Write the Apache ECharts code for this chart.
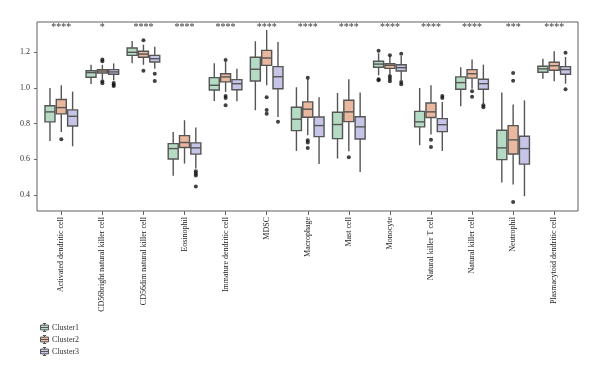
<!DOCTYPE html>
<html><head><meta charset="utf-8">
<script src="https://cdn.jsdelivr.net/npm/echarts@6/dist/echarts.min.js"></script>
<style>html,body{margin:0;padding:0;background:#fff}#c{width:600px;height:378px}</style>
</head><body><div id="c"></div>
<script>
const categories = ['Activated dendritic cell','CD56bright natural killer cell','CD56dim natural killer cell','Eosinophil','Immature dendritic cell','MDSC','Macrophage','Mast cell','Monocyte','Natural killer T cell','Natural killer cell','Neutrophil','Plasmacytoid dendritic cell'];
const significance = ['****','*','****','****','****','****','****','****','****','****','****','***','****'];
const yTicks = [0.4, 0.6, 0.8, 1.0, 1.2];
const clusterNames = ['Cluster1','Cluster2','Cluster3'];

// [lower whisker, Q1, median, Q3, upper whisker]
const cluster1Boxes = [
  [0.703,0.81,0.866,0.90,1.0],
  [1.022,1.06,1.086,1.097,1.13],
  [1.138,1.183,1.2,1.224,1.263],
  [0.507,0.602,0.66,0.688,0.753],
  [0.927,0.989,1.015,1.058,1.138],
  [0.875,1.039,1.105,1.172,1.262],
  [0.647,0.761,0.825,0.892,1.004],
  [0.604,0.716,0.795,0.864,0.972],
  [1.071,1.116,1.134,1.15,1.195],
  [0.679,0.782,0.81,0.869,1.0],
  [0.898,0.993,1.03,1.062,1.116],
  [0.47,0.598,0.664,0.763,0.974],
  [1.052,1.088,1.107,1.122,1.164]
];
const cluster2Boxes = [
  [0.753,0.855,0.89,0.935,1.015],
  [1.05,1.084,1.095,1.103,1.13],
  [1.13,1.172,1.19,1.206,1.243],
  [0.576,0.666,0.694,0.733,0.819],
  [0.978,1.034,1.062,1.08,1.146],
  [1.015,1.127,1.168,1.211,1.325],
  [0.735,0.836,0.881,0.922,1.05],
  [0.645,0.811,0.866,0.931,1.049],
  [1.07,1.11,1.127,1.136,1.175],
  [0.739,0.834,0.866,0.916,1.015],
  [0.996,1.055,1.08,1.103,1.159],
  [0.459,0.63,0.709,0.789,0.908],
  [1.038,1.099,1.125,1.144,1.206]
];
const cluster3Boxes = [
  [0.673,0.787,0.841,0.877,0.98],
  [1.043,1.077,1.09,1.103,1.138],
  [1.108,1.146,1.164,1.183,1.231],
  [0.548,0.629,0.664,0.692,0.778],
  [0.925,0.99,1.024,1.047,1.108],
  [0.837,0.996,1.063,1.12,1.258],
  [0.573,0.727,0.789,0.837,0.948],
  [0.529,0.714,0.782,0.839,0.974],
  [1.045,1.095,1.114,1.13,1.18],
  [0.647,0.755,0.794,0.828,0.922],
  [0.912,0.993,1.024,1.049,1.131],
  [0.393,0.573,0.66,0.729,0.931],
  [1.024,1.077,1.103,1.12,1.174]
];
// [category index, value]
const cluster1Outliers = [[8,1.209],[8,1.049],[8,1.043]];
const cluster2Outliers = [[0,0.713],[1,1.16],[1,1.15],[1,1.038],[1,1.027],[2,1.267],[2,1.097],[4,1.157],[4,0.955],[4,0.944],[4,0.903],[5,0.948],[5,0.877],[5,0.855],[6,1.058],[6,0.707],[6,0.694],[6,0.664],[7,0.612],[8,1.183],[8,1.066],[8,1.052],[8,1.038],[9,0.709],[9,0.669],[10,0.981],[10,0.951],[11,1.084],[11,1.041],[11,0.36]];
const cluster3Outliers = [[1,1.028],[1,1.018],[1,1.011],[2,1.08],[2,1.039],[3,0.533],[3,0.52],[3,0.509],[3,0.447],[5,0.81],[8,1.192],[8,1.034],[8,1.021],[9,0.955],[9,0.944],[10,0.903],[10,0.892],[12,1.198],[12,0.993]];

const FONT = 'Liberation Serif';
const colors = ['#b6dbc4','#eab89e','#c6c5e7'];
const edge = '#555555';
const yMin = 0.31, yMax = 1.37;
const plotLeft = 40.75, plotWidth = 534;
const band = plotWidth / categories.length;
const avail = band * 0.8 - 2;
const gap = avail / 3 * 0.3;
const bw = (avail - 2 * gap) / 3;
const step = gap + bw;
const offsets = [-step, 0, step];
const boxW = 10;

function boxSeries(name, boxes, idx) {
  return {
    type: 'custom', name: name, xAxisIndex: 1, yAxisIndex: 1,
    itemStyle: { color: colors[idx], borderColor: edge },
    encode: { x: 0, y: [1, 2, 3, 4, 5] },
    data: boxes.map((b, i) => [i].concat(b)),
    renderItem: function (params, api) {
      const c = api.value(0);
      const x = api.coord([c, api.value(3)])[0] + offsets[idx];
      const y = k => api.coord([c, api.value(k)])[1];
      const yl = y(1), yq1 = y(2), ym = y(3), yq3 = y(4), yh = y(5);
      const st = { stroke: edge, lineWidth: 1.4 };
      return { type: 'group', children: [
        { type: 'line', shape: { x1: x, y1: yh, x2: x, y2: yq3 }, style: st },
        { type: 'line', shape: { x1: x, y1: yq1, x2: x, y2: yl }, style: st },
        { type: 'rect', shape: { x: x - boxW / 2, y: yq3, width: boxW, height: yq1 - yq3 }, style: { fill: colors[idx], stroke: edge, lineWidth: 1.4 } },
        { type: 'line', shape: { x1: x - boxW / 2, y1: ym, x2: x + boxW / 2, y2: ym }, style: st }
      ]};
    }
  };
}
function outlierSeries(name, pts, idx) {
  return {
    type: 'scatter', name: name + ' outliers', xAxisIndex: 1, yAxisIndex: 1,
    symbol: 'circle', symbolSize: 4, symbolOffset: [offsets[idx], 0],
    itemStyle: { color: '#111' }, silent: true,
    data: pts
  };
}

const chart = echarts.init(document.getElementById('c'), null, { renderer: 'canvas' });
chart.setOption({
  animation: false,
  backgroundColor: '#fff',
  textStyle: { fontFamily: FONT },
  grid: [
    { left: 37, top: 22, width: 541, height: 189, show: true, borderColor: '#606060', borderWidth: 1, backgroundColor: 'transparent' },
    { left: plotLeft, top: 22, width: plotWidth, height: 189 }
  ],
  xAxis: [
    { gridIndex: 0, type: 'value', show: false, min: 0, max: 1 },
    { gridIndex: 1, type: 'category', data: categories, boundaryGap: true,
      axisLine: { show: false },
      axisTick: { show: true, alignWithLabel: true, length: 4, lineStyle: { color: '#666' } },
      axisLabel: { rotate: 90, interval: 0, fontSize: 8, margin: 6, color: '#222', fontFamily: FONT } },
    { gridIndex: 1, type: 'category', position: 'top', data: significance,
      axisLine: { show: false }, axisTick: { show: false },
      axisLabel: { inside: true, interval: 0, margin: 0.5, fontSize: 10, color: '#333', fontFamily: FONT } }
  ],
  yAxis: [
    { gridIndex: 0, type: 'value', min: yMin, max: yMax,
      axisLine: { show: false }, splitLine: { show: false },
      axisTick: { show: true, length: 3, lineStyle: { color: '#666' }, customValues: yTicks },
      axisLabel: { fontSize: 8, margin: 7, color: '#333', fontFamily: FONT, customValues: yTicks, formatter: v => v.toFixed(1) } },
    { gridIndex: 1, type: 'value', min: yMin, max: yMax, show: false, splitLine: { show: false } }
  ],
  legend: {
    data: clusterNames, orient: 'vertical', left: 35, top: 318,
    itemWidth: 9, itemHeight: 8, itemGap: 3,
    icon: 'path://M3,0L7,0M5,0L5,2M0,2L10,2L10,8L0,8ZM0,5L10,5M5,8L5,10M3,10L7,10',
    itemStyle: { borderColor: edge, borderWidth: 1 },
    textStyle: { fontSize: 8, lineHeight: 9, color: '#333', fontFamily: FONT, padding: [0, 0, 0, -2] }
  },
  series: [
    boxSeries('Cluster1', cluster1Boxes, 0),
    boxSeries('Cluster2', cluster2Boxes, 1),
    boxSeries('Cluster3', cluster3Boxes, 2),
    outlierSeries('Cluster1', cluster1Outliers, 0),
    outlierSeries('Cluster2', cluster2Outliers, 1),
    outlierSeries('Cluster3', cluster3Outliers, 2)
  ]
});
</script></body></html>
